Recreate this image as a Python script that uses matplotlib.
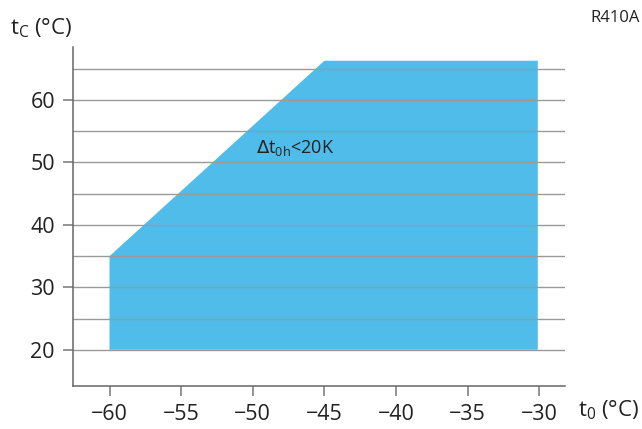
import matplotlib
matplotlib.use("Agg")
from matplotlib import pyplot as plt

# envelope corners (t0, tc)
t0 = [-60, -60, -45, -30.1, -30.1]
tc = [20, 35, 66.3, 66.3, 20]

xticks = [-60, -55, -50, -45, -40, -35, -30]
yticks = [20, 30, 40, 50, 60]
grid_y = [20, 25, 30, 35, 40, 45, 50, 55, 60, 65]

plt.rcParams['font.family'] = ['Open Sans', 'DejaVu Sans']

fig = plt.figure(figsize=(6.42, 4.29), dpi=100)
ax = fig.add_axes([73 / 642, 43 / 429, (565 - 73) / 642, (386 - 47) / 429])

ax.fill(t0, tc, color='#4FBCE9', lw=0, zorder=1)
for g in grid_y:
    ax.axhline(g, color='#999999', lw=1.0, zorder=2)

ax.set_xlim(-62.55, -28.2)
ax.set_ylim(14.2, 68.5)
ax.set_xticks(xticks)
ax.set_xticklabels(['\u2212%d' % abs(v) for v in xticks])
ax.set_yticks(yticks)
ax.tick_params(direction='out', length=7, width=1.1, color='#777777',
               labelsize=15.5, pad=6, labelcolor='#222222')
for s in ['top', 'right']:
    ax.spines[s].set_visible(False)
for s in ['left', 'bottom']:
    ax.spines[s].set_color('#666666')
    ax.spines[s].set_linewidth(1.1)

ax.text(-49.8, 52.4, r'$\Delta$t$_{\mathregular{0h}}$<20K', fontsize=13,
        color='#222222', ha='left', va='center', zorder=3)

fig.text(10 / 642, 1 - 28 / 429, r't$_{\mathregular{C}}$ (°C)', fontsize=16,
         color='#222222', ha='left', va='center')
fig.text(640 / 642, 1 - 18 / 429, 'R410A', fontsize=12, color='#222222',
         ha='right', va='center')
fig.text(578 / 642, 1 - 410 / 429, r't$_{\mathregular{0}}$ (°C)', fontsize=16,
         color='#222222', ha='left', va='center')

fig.savefig('out.png', dpi=100)
